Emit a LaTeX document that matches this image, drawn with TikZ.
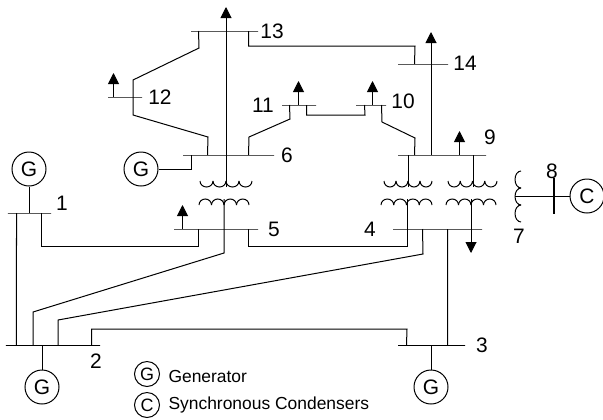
\documentclass[tikz,border=0pt]{standalone}
\usepackage{fontspec}
\setmainfont{Liberation Sans}
\usetikzlibrary{arrows.meta, calc}

\begin{document}
\begin{tikzpicture}[
    x=1bp,
    y=-1bp,
    line width=1bp,
    busbar/.style={
        draw,
        rectangle,
        inner sep=0pt,
        minimum height=0pt
    },
    machine/.style={
        draw,
        circle,
        inner sep=0pt,
        minimum size=34bp,
        font=\fontsize{21}{23}\selectfont
    },
    keymachine/.style={
        draw,
        circle,
        inner sep=0pt,
        minimum size=25bp,
        font=\fontsize{18}{20}\selectfont
    },
    busno/.style={
        inner sep=0pt,
        font=\fontsize{21}{23}\selectfont
    },
    keytext/.style={
        inner sep=0pt,
        anchor=west,
        font=\fontsize{17.5}{20}\selectfont
    },
    load/.style={
        -{Triangle[length=11bp,width=11bp]}
    }
]
    \useasboundingbox (0,0) rectangle (603,419);

    % Buses
    \node [busbar, minimum width=43bp] (bus1) at (29.5,213) {};
    \node [busbar, minimum width=94bp] (bus2) at (53,345) {};
    \node [busbar, minimum width=67bp] (bus3) at (431.5,345) {};
    \node [busbar, minimum width=89bp] (bus4) at (437.5,229) {};
    \node [busbar, minimum width=84bp] (bus5) at (216,229) {};
    \node [busbar, minimum width=91bp] (bus6) at (228.5,155) {};
    \node [busbar, minimum width=88bp] (bus9) at (442,155) {};
    \node [busbar, minimum width=30bp] (bus10) at (371,105) {};
    \node [busbar, minimum width=34bp] (bus11) at (299,105) {};
    \node [busbar, minimum width=34bp] (bus12) at (125,97) {};
    \node [busbar, minimum width=67bp] (bus13) at (224.5,31) {};
    \node [busbar, minimum width=50bp] (bus14) at (423,64) {};
    \node [busbar, minimum height=35bp] (bus8) at (554,195.5) {};

    % Machines
    \node [machine] (gen1) at (29,169) {G};
    \node [machine] (gen2) at (42,387) {G};
    \node [machine] (gen3) at (431,387) {G};
    \node [machine] (gen6) at (141,169) {G};
    \node [machine] (cond8) at (587,196) {C};

    % Bus numbers
    \node [busno] (no1) at (62,203) {1};
    \node [busno] (no2) at (96,361) {2};
    \node [busno] (no3) at (482,345) {3};
    \node [busno] (no4) at (370,229) {4};
    \node [busno] (no5) at (274,229) {5};
    \node [busno] (no6) at (287,155) {6};
    \node [busno] (no7) at (519,236) {7};
    \node [busno] (no8) at (552,171) {8};
    \node [busno] (no9) at (490,137) {9};
    \node [busno] (no10) at (403,101) {10};
    \node [busno] (no11) at (263,105) {11};
    \node [busno] (no12) at (160,97) {12};
    \node [busno] (no13) at (272,31) {13};
    \node [busno] (no14) at (465,63) {14};

    % Transformer windings
    \foreach \xa/\xb in {200/252,384/432,448/497} {
        \foreach \i in {0,...,3} {
            \draw ({\xa+\i*(\xb-\xa)/4},181) arc [start angle=180, end angle=0, x radius={(\xb-\xa)/8}, y radius=6];
        }
    }
    \foreach \xa/\xb in {199/249,381/432,446/496} {
        \foreach \i in {0,...,3} {
            \draw ({\xa+\i*(\xb-\xa)/4},205) arc [start angle=180, end angle=360, x radius={(\xb-\xa)/8}, y radius=6];
        }
    }
    \foreach \i in {0,1,2} {
        \draw (521,{188+\i*17}) arc [start angle=90, end angle=270, x radius=6, y radius=8.5];
    }
    \coordinate (coil7) at (515,196);
    \coordinate (coil6) at (226,187);
    \coordinate (coil5) at (224,199);
    \coordinate (coil9a) at (408,187);
    \coordinate (coil4a) at (407,199);
    \coordinate (coil9b) at (473,187);
    \coordinate (coil4b) at (471,199);

    % Generator stubs
    \draw (gen1) -- (gen1 |- bus1);
    \draw (gen2) -- (gen2 |- bus2);
    \draw (gen3) -- (gen3 |- bus3);
    \draw (gen6) -| ($(bus6.west) + (9,0)$);
    \draw (cond8) -- (coil7);

    % Lines
    \draw ($(bus1.west) + (9,0)$) -- ($(bus2.west) + (11,0)$);
    \draw ($(bus1.west) + (34,0)$) |- ($(bus5.west) + (25,17)$) -- ($(bus5.west) + (25,0)$);
    \draw (coil5) -- (224,253) -- (33,312) -- (33,345);
    \draw ($(bus4.west) + (30,0)$) -- (423,254) -- (58,320) -- (58,345);
    \draw ($(bus2.west) + (86,0)$) |- (407,329) -- ($(bus3.west) + (9,0)$);
    \draw ($(bus5.west) + (75,0)$) |- (407,246) -- (coil4a);
    \draw ($(bus3.west) + (50,0)$) -- ($(bus4.west) + (55,0)$);
    \draw (coil6) -- (226,155);
    \draw (coil9a) -- (408,155);
    \draw (coil9b) -- (473,155);
    \draw ($(bus13.west) + (8,0)$) -- (199,48) -- (133,80) -- (133,115) -- (208,137) -- ($(bus6.west) + (25,0)$);
    \draw ($(bus6.west) + (66,0)$) -- (249,137) -- (290,119) -- ($(bus11.west) + (8,0)$);
    \draw ($(bus11.west) + (25,0)$) |- (365,115) -- ($(bus10.west) + (9,0)$);
    \draw ($(bus10.west) + (26,0)$) -- (382,122) -- (415,138) -- ($(bus9.west) + (17,0)$);
    \draw ($(bus13.west) + (58,0)$) |- (415,46) -- ($(bus14.west) + (17,0)$);

    % Loads
    \draw [load] (226,155) -- (226,7);
    \draw [load] (431,155) -- (431,32);
    \draw [load] ($(bus5.west) + (9,0)$) -- ++(0,-24);
    \draw [load] ($(bus9.west) + (62,0)$) -- ++(0,-24);
    \draw [load] ($(bus10.west) + (17,0)$) -- ++(0,-24);
    \draw [load] ($(bus11.west) + (17,0)$) -- ++(0,-24);
    \draw [load] ($(bus12.west) + (6,0)$) -- ++(0,-24);
    \draw [load] (coil4b) -- (471,253);

    % Legend
    \node [keymachine] (keygen) at (147,374) {G};
    \node [keymachine] (keycond) at (147,405) {C};
    \node [keytext] (keygentext) at (168,376) {Generator};
    \node [keytext] (keycondtext) at (168,405) {Synchronous Condensers};
\end{tikzpicture}
\end{document}
